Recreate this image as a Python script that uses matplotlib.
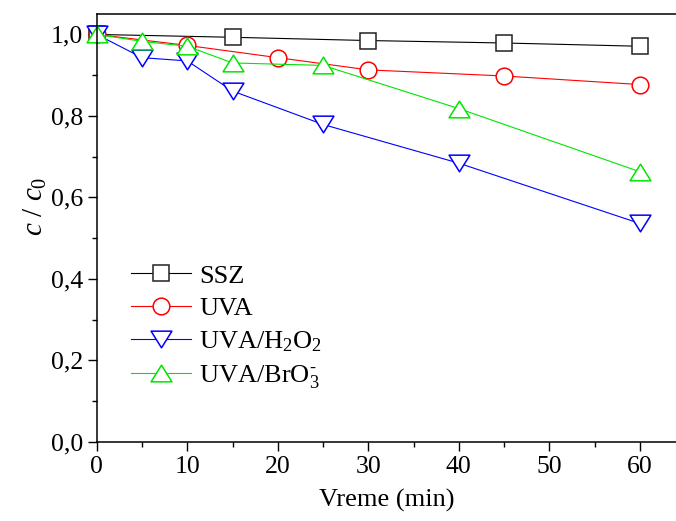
import matplotlib
matplotlib.use('Agg')
import matplotlib.pyplot as plt
from matplotlib.path import Path
from matplotlib.ticker import MultipleLocator, FuncFormatter

plt.rcParams['font.family'] = ['Liberation Serif', 'DejaVu Serif']
plt.rcParams['mathtext.fontset'] = 'custom'
plt.rcParams['mathtext.rm'] = 'Liberation Serif'
plt.rcParams['mathtext.it'] = 'Liberation Serif:italic'

# data
t_ssz = [0, 15, 30, 45, 60]
c_ssz = [1.0, 0.993, 0.985, 0.979, 0.971]

t_uva = [0, 10, 20, 30, 45, 60]
c_uva = [1.0, 0.973, 0.943, 0.913, 0.898, 0.877]

t_h2o2 = [0, 5, 10, 15, 25, 40, 60]
c_h2o2 = [1.0, 0.943, 0.935, 0.861, 0.779, 0.684, 0.536]

t_bro3 = [0, 5, 10, 15, 25, 40, 60]
c_bro3 = [1.0, 0.983, 0.971, 0.930, 0.924, 0.818, 0.663]

labels = ['SSZ', 'UVA', r'UVA/H$_2$O$_2$', r'UVA/BrO$_3^{\text{-}}$']

# wider, flatter triangles like the original software draws
tri_up = Path([(-1, -0.8), (1, -0.8), (0, 0.8), (-1, -0.8)],
              [Path.MOVETO, Path.LINETO, Path.LINETO, Path.CLOSEPOLY])
tri_down = Path([(-1, 0.8), (1, 0.8), (0, -0.8), (-1, 0.8)],
                [Path.MOVETO, Path.LINETO, Path.LINETO, Path.CLOSEPOLY])

green = '#00e600'

fig = plt.figure(figsize=(6.76, 5.21), dpi=100)
ax = fig.add_axes([0.1432, 0.152, 0.8568, 0.821])

ax.plot(t_ssz, c_ssz, color='black', lw=0.8, marker='s', ms=11,
        mfc='white', mec='#222222', mew=1.1, label=labels[0], clip_on=False)
ax.plot(t_uva, c_uva, color='red', lw=0.8, marker='o', ms=12,
        mfc='white', mec='red', mew=1.1, label=labels[1], clip_on=False)
ax.plot(t_h2o2, c_h2o2, color='blue', lw=0.8, marker=tri_down, ms=15,
        mfc='white', mec='blue', mew=1.1, label=labels[2], clip_on=False)
ax.plot(t_bro3, c_bro3, color=green, lw=0.8, marker=tri_up, ms=15,
        mfc='white', mec=green, mew=1.1, label=labels[3], clip_on=False)

ax.set_xlim(0, 64)
ax.set_ylim(0, 1.05)
ax.xaxis.set_major_locator(MultipleLocator(10))
ax.xaxis.set_minor_locator(MultipleLocator(5))
ax.yaxis.set_major_locator(MultipleLocator(0.2))
ax.yaxis.set_minor_locator(MultipleLocator(0.1))
ax.yaxis.set_major_formatter(FuncFormatter(lambda v, p: f'{v:.1f}'.replace('.', ',')))

ax.tick_params(which='major', direction='out', length=6.5, width=1, labelsize=18.5)
ax.tick_params(which='minor', direction='out', length=3.5, width=1)
ax.tick_params(top=False, right=False)
ax.spines['right'].set_visible(False)
for sp in ['left', 'bottom', 'top']:
    ax.spines[sp].set_linewidth(1.1)

ax.set_xlabel('Vreme (min)', fontsize=19, labelpad=8)
ax.set_ylabel(r'$c\ /\ c_0$', fontsize=21)
ax.yaxis.set_label_coords(-0.083, 0.55)

ax.legend(loc='upper left', bbox_to_anchor=(0.04, 0.44), frameon=False,
          fontsize=19, handlelength=2.3, handletextpad=0.3, labelspacing=0.35,
          borderaxespad=0)

plt.savefig('out.png', dpi=100)
